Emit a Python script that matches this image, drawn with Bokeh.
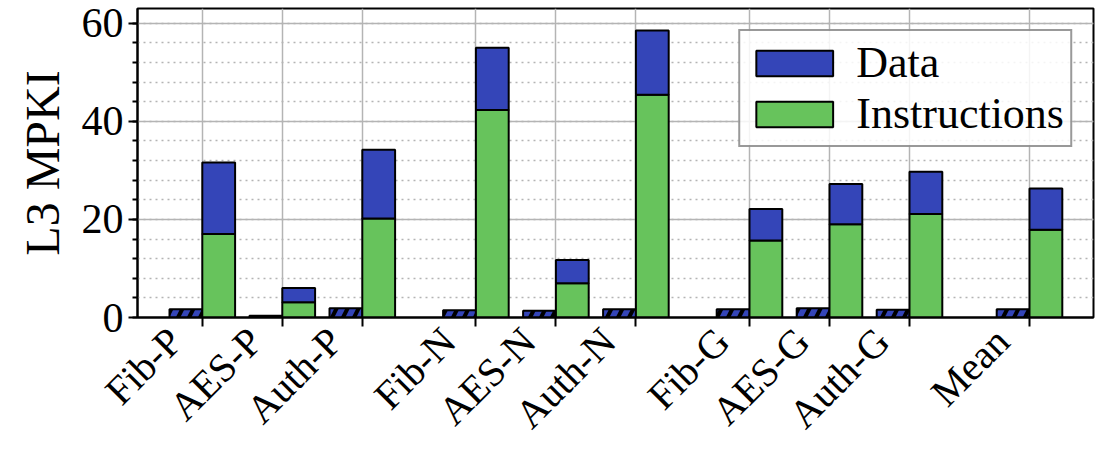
import math
from bokeh.plotting import figure
from bokeh.models import (Range1d, FixedTicker, SingleIntervalTicker, ColumnDataSource,
                          Legend, LegendItem)
from bokeh.embed import file_html
from bokeh.resources import INLINE

# ---- data ----
groups = [["Fib-P", "AES-P", "Auth-P"],
          ["Fib-N", "AES-N", "Auth-N"],
          ["Fib-G", "AES-G", "Auth-G"],
          ["Mean"]]
instructions = [17.0, 3.1, 20.2, 42.3, 7.0, 45.4, 15.7, 19.0, 21.1, 17.9]
data_part = [14.6, 2.9, 14.0, 12.7, 4.7, 13.1, 6.4, 8.2, 8.6, 8.4]
baseline = [1.7, 0.35, 1.9, 1.5, 1.4, 1.7, 1.7, 1.9, 1.6, 1.7]

BLUE = "#3445b8"
GREEN = "#67c35c"
FONT = "Liberation Serif"

# category positions with gaps between groups
gaps = [0.0, 0.42, 0.42, 0.5]
cats, xs = [], []
pos = 0.0
for gi, g in enumerate(groups):
    if gi > 0:
        pos += gaps[gi]
    for c in g:
        cats.append(c)
        xs.append(pos)
        pos += 1.0

bw = 0.41
label_shift = 0.34   # rotated labels sit a little left of their tick
tops = [a + b for a, b in zip(instructions, data_part)]
src = ColumnDataSource(dict(
    xb=[x - bw / 2 for x in xs],
    xs=[x + bw / 2 for x in xs],
    instr=instructions,
    total=tops,
    base=baseline,
))

p = figure(width=1101, height=455, output_backend="svg", toolbar_location=None,
           x_range=Range1d(-0.81, 11.14), y_range=Range1d(0, 63),
           min_border_left=137, min_border_right=8, min_border_top=8,
           min_border_bottom=138)

p.outline_line_color = "black"
p.outline_line_width = 2
p.background_fill_color = "white"
p.border_fill_color = "white"

# x axis: tick marks (as minor ticks) at categories, labels shifted left
lab_pos = [x - label_shift for x in xs]
p.xaxis.ticker = FixedTicker(ticks=lab_pos, minor_ticks=xs)
p.xaxis.major_label_overrides = {x: c for x, c in zip(lab_pos, cats)}
p.xaxis.major_label_orientation = math.pi / 4
p.xaxis.major_tick_line_color = None
p.xaxis.major_tick_in = 0
p.xaxis.major_tick_out = 9
p.xaxis.minor_tick_line_color = "black"
p.xaxis.minor_tick_line_width = 2
p.xaxis.minor_tick_in = 0
p.xaxis.minor_tick_out = 9
p.xaxis.major_label_standoff = 8
p.xaxis.major_label_text_font_size = "40px"

p.yaxis.ticker = SingleIntervalTicker(interval=20, num_minor_ticks=5)
p.yaxis.major_tick_line_color = "black"
p.yaxis.major_tick_line_width = 2
p.yaxis.major_tick_in = 0
p.yaxis.major_tick_out = 9
p.yaxis.minor_tick_line_color = "black"
p.yaxis.minor_tick_line_width = 2
p.yaxis.minor_tick_in = 0
p.yaxis.minor_tick_out = 5
p.yaxis.major_label_text_font_size = "42px"
p.yaxis.axis_label = "L3 MPKI"
p.yaxis.axis_label_text_font = FONT
p.yaxis.axis_label_text_font_size = "48px"
p.yaxis.axis_label_text_font_style = "normal"
p.yaxis.axis_label_text_color = "black"
p.yaxis.axis_label_standoff = 10
for ax in (p.xaxis, p.yaxis):
    ax.axis_line_color = "black"
    ax.axis_line_width = 2
    ax.major_label_text_font = FONT
    ax.major_label_text_color = "black"

# grids
p.xgrid.ticker = FixedTicker(ticks=xs)
p.xgrid.grid_line_color = "#b4b4b4"
p.xgrid.grid_line_width = 1.5
p.ygrid.grid_line_color = "#b4b4b4"
p.ygrid.grid_line_width = 1.5
p.ygrid.minor_grid_line_color = "#b4b4b4"
p.ygrid.minor_grid_line_width = 1.5
p.ygrid.minor_grid_line_dash = "2 4"

# bars
p.vbar(x="xb", width=bw, bottom=0, top="base", source=src, fill_color=BLUE,
       line_color="black", line_width=2, hatch_pattern="/", hatch_color="black",
       hatch_weight=4, hatch_scale=22)
r_instr = p.vbar(x="xs", width=bw, bottom=0, top="instr", source=src,
                 fill_color=GREEN, line_color="black", line_width=2)
r_data = p.vbar(x="xs", width=bw, bottom="instr", top="total", source=src,
                fill_color=BLUE, line_color="black", line_width=2)

legend = Legend(items=[LegendItem(label="Data", renderers=[r_data]),
                       LegendItem(label="Instructions", renderers=[r_instr])],
                location="top_right")
legend.margin = 21
legend.padding = 6
legend.spacing = 0
legend.glyph_width = 96
legend.glyph_height = 32
legend.label_height = 32
legend.label_standoff = 14
legend.label_text_font = FONT
legend.label_text_font_size = "44px"
legend.label_text_color = "black"
legend.label_text_baseline = "middle"
legend.border_line_color = "#333333"
legend.border_line_width = 2
legend.background_fill_alpha = 0.85
p.add_layout(legend, "center")

open("out.html", "w").write(file_html(p, INLINE))
